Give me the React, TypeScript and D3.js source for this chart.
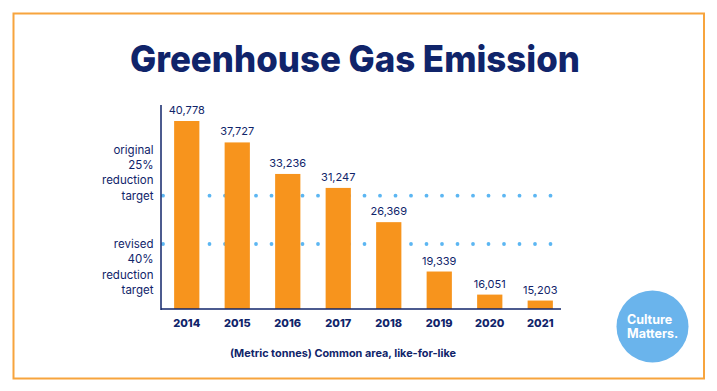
import React from "react";
import * as d3 from "d3";

const years = ["2014", "2015", "2016", "2017", "2018", "2019", "2020", "2021"];
const emissions = [40778, 37727, 33236, 31247, 26369, 19339, 16051, 15203];
const targetValues = [30140, 23260];
const targetLabels = [
  ["original", "25%", "reduction", "target"],
  ["revised", "40%", "reduction", "target"],
];

const W = 717;
const H = 391;
const navy = "#10246a";
const orange = "#f7941d";
const blue = "#5cb6f2";
const font = "Inter, 'Liberation Sans', sans-serif";

const axisX = 161;
const baseY = 309;

const App = () => {
  const x = d3.scaleBand().domain(years).range([161.5, 565.5]).paddingInner(0.5).paddingOuter(0.25);
  const y = d3.scaleLinear().domain([14000, 40778]).range([baseY, 121]);
  const fmt = d3.format(",");
  const dots = d3.range(163, 556, 15.5);

  return (
    <svg width={W} height={H} style={{ position: "absolute", left: 0, top: 0 }} fontFamily={font}>
      <rect x={0} y={0} width={W} height={H} fill="#fff" />
      <rect x={13.5} y={13.5} width={690.5} height={365} fill="none" stroke="#f7a43d" strokeWidth={2} />

      <text x={355} y={72} textAnchor="middle" fontSize={37} fontWeight={800} fill={navy}
        textLength={450} lengthAdjust="spacingAndGlyphs">
        Greenhouse Gas Emission
      </text>

      {targetValues.map((v, i) => (
        <g key={"t" + i}>
          {dots.map((dx, j) => (
            <circle key={j} cx={dx} cy={y(v)} r={1.9} fill={blue} />
          ))}
        </g>
      ))}

      {years.map((yr, i) => (
        <g key={yr}>
          <rect x={x(yr)} y={y(emissions[i])} width={x.bandwidth()} height={baseY - y(emissions[i])} fill={orange} />
          <text x={(x(yr) as number) + x.bandwidth() / 2} y={y(emissions[i]) - 7} textAnchor="middle"
            fontSize={11} fill={navy}>
            {fmt(emissions[i])}
          </text>
          <text x={(x(yr) as number) + x.bandwidth() / 2} y={326.5} textAnchor="middle"
            fontSize={11} fontWeight={800} fill={navy}>
            {yr}
          </text>
        </g>
      ))}

      <line x1={axisX} x2={axisX} y1={105} y2={baseY + 1} stroke={navy} strokeWidth={1.5} />
      <line x1={axisX} x2={561} y1={baseY} y2={baseY} stroke={navy} strokeWidth={1.5} />

      {targetLabels.map((lines, i) => {
        const cy = y(targetValues[i]);
        const start = i === 0 ? cy - 15.3 * 3 : cy;
        return lines.map((t, j) => (
          <text key={i + "-" + j} x={153.5} y={start + j * 15.3 + 4} textAnchor="end" fontSize={11.5} fill={navy}>
            {t}
          </text>
        ));
      })}

      <text x={343} y={357} textAnchor="middle" fontSize={10.5} fontWeight={700} fill={navy}
        textLength={226} lengthAdjust="spacingAndGlyphs">
        (Metric tonnes) Common area, like-for-like
      </text>

      <circle cx={652.5} cy={326.5} r={36} fill="#6ab4ec" />
      <text x={627} y={324} fontSize={12.5} fontWeight={700} fill="#fff">Culture</text>
      <text x={627} y={337.5} fontSize={12.5} fontWeight={700} fill="#fff">Matters.</text>
    </svg>
  );
};

export default App;
